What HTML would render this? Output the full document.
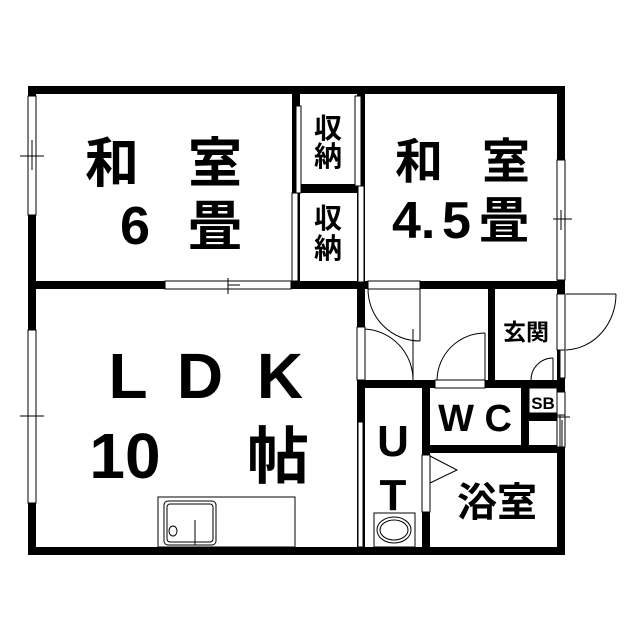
<!DOCTYPE html>
<html><head><meta charset="utf-8"><style>
html,body{margin:0;padding:0;background:#fff}
svg{display:block}
text{font-family:"Liberation Sans","Noto Sans CJK JP",sans-serif;font-weight:bold;fill:#000}
</style></head><body>
<svg width="640" height="640" viewBox="0 0 640 640" xmlns="http://www.w3.org/2000/svg">
<rect width="640" height="640" fill="#fff"/>
<g fill="#000">
<rect x="28" y="86" width="537" height="8"/>
<rect x="28" y="86" width="8" height="469"/>
<rect x="28" y="547" width="537" height="8"/>
<rect x="557" y="86" width="8" height="469"/>
<rect x="28" y="281" width="537" height="8"/>
<rect x="292" y="86" width="8" height="203"/>
<rect x="357" y="86" width="8" height="203"/>
<rect x="296" y="184" width="64" height="9"/>
<rect x="357" y="281" width="8" height="274"/>
<rect x="357" y="380" width="205" height="8"/>
<rect x="488" y="281" width="7" height="106"/>
<rect x="422" y="380" width="8" height="175"/>
<rect x="422" y="445" width="140" height="8"/>
<rect x="521" y="380" width="8" height="73"/>
<rect x="521" y="413" width="40" height="8"/>
</g>
<g fill="#fff" stroke="#000" stroke-width="1">
<rect x="28" y="96" width="8" height="119"/>
<rect x="28" y="330" width="8" height="173"/>
<rect x="165" y="281" width="126" height="8"/>
<rect x="557" y="160" width="8" height="120"/>
<rect x="296" y="106" width="5" height="87"/>
<rect x="292" y="193" width="6" height="88"/>
<rect x="355" y="96" width="6" height="90"/>
<rect x="358" y="186" width="6" height="96"/>
<rect x="357" y="327" width="8" height="53"/>
<rect x="358" y="422" width="5" height="125"/>
<rect x="368" y="281" width="52" height="8"/>
<rect x="435" y="380" width="50" height="8"/>
<rect x="422" y="455" width="8" height="57"/>
<rect x="557" y="294" width="8" height="56"/>
<rect x="560" y="350" width="5" height="28"/>
<rect x="557" y="392" width="8" height="23"/>
<rect x="557" y="415" width="8" height="32"/>
<rect x="529" y="388" width="28" height="25"/>
<rect x="158" y="497" width="137" height="50"/>
<rect x="164" y="501" width="52" height="44" rx="4"/>
<rect x="167" y="504" width="46" height="38" rx="3"/>
<ellipse cx="173" cy="531" rx="4" ry="5"/>
<rect x="374" y="513" width="41" height="34"/>
<ellipse cx="394" cy="530" rx="17" ry="13"/>
<ellipse cx="394" cy="530" rx="14" ry="10"/>
</g>
<g fill="none" stroke="#000" stroke-width="1">
<line x1="195" y1="520" x2="195" y2="545"/>
<line x1="20" y1="156" x2="44" y2="156"/>
<line x1="32" y1="140" x2="32" y2="170"/>
<line x1="20" y1="416" x2="44" y2="416"/>
<line x1="228" y1="285" x2="240" y2="285"/>
<line x1="228" y1="278" x2="228" y2="294"/>
<line x1="553" y1="219" x2="572" y2="219"/>
<line x1="561" y1="210" x2="561" y2="230"/>
<line x1="420" y1="289" x2="420" y2="341"/>
<path d="M368 289 A52 52 0 0 0 420 341"/>
<path d="M365 329 A51 51 0 0 1 413 380"/>
<line x1="413" y1="329" x2="413" y2="380"/>
<path d="M437 380 A48 48 0 0 1 485 333"/>
<line x1="485" y1="333" x2="485" y2="380"/>
<line x1="566" y1="294" x2="616" y2="294"/>
<path d="M616 294 A52 56 0 0 1 566 350"/>
<path d="M531 380 A22 22 0 0 1 553 358"/>
<line x1="553" y1="358" x2="553" y2="380"/>
<path d="M430 456 L457 470 L430 483"/>
<line x1="560" y1="415" x2="560" y2="447"/>
<line x1="562" y1="420" x2="562" y2="450"/>
<line x1="553" y1="417" x2="570" y2="417"/>
</g>
<text x="112" y="182" font-size="54" text-anchor="middle">和</text>
<text x="215" y="182" font-size="54" text-anchor="middle">室</text>
<text x="135" y="244" font-size="54" text-anchor="middle" font-weight="normal">6</text>
<text x="215" y="245" font-size="54" text-anchor="middle">畳</text>
<text x="328" y="138" font-size="28" text-anchor="middle">収</text>
<text x="328" y="166" font-size="28" text-anchor="middle">納</text>
<text x="328" y="228" font-size="28" text-anchor="middle">収</text>
<text x="328" y="258" font-size="28" text-anchor="middle">納</text>
<text x="419" y="178" font-size="48" text-anchor="middle">和</text>
<text x="506" y="178" font-size="48" text-anchor="middle">室</text>
<text x="392" y="238" font-size="52" font-weight="normal">4.</text>
<text x="442" y="238" font-size="52" font-weight="normal">5</text>
<text x="479" y="238" font-size="50">畳</text>
<text x="128" y="398" font-size="64" text-anchor="middle" font-weight="normal">L</text>
<text x="200" y="398" font-size="64" text-anchor="middle">D</text>
<text x="280" y="398" font-size="64" text-anchor="middle" font-weight="normal">K</text>
<text x="125" y="478" font-size="64" text-anchor="middle" font-weight="normal">10</text>
<text x="278" y="478" font-size="62" text-anchor="middle">帖</text>
<text x="393" y="456" font-size="44" text-anchor="middle" font-weight="normal">U</text>
<text x="393" y="510" font-size="44" text-anchor="middle" font-weight="normal">T</text>
<text x="475" y="431" font-size="38" text-anchor="middle">W C</text>
<text x="526" y="340" font-size="23" text-anchor="middle">玄関</text>
<text x="543" y="409" font-size="17" text-anchor="middle" font-weight="normal">SB</text>
<text x="497" y="516" font-size="40" text-anchor="middle">浴室</text>
</svg>
</body></html>
